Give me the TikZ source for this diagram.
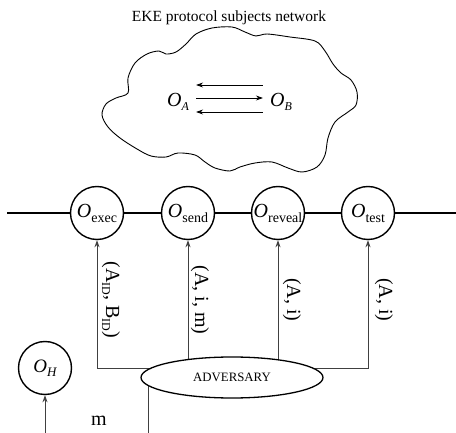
\documentclass[tikz,border=0pt]{standalone}
\usepackage{fontspec}
\setmainfont{Liberation Serif}
\usetikzlibrary{arrows.meta,shapes.geometric,backgrounds}
\newcommand{\Osb}[1]{\textit{O}\raisebox{-5pt}{\fontsize{14}{14}\selectfont #1}}
\newcommand{\Oit}[3]{\textit{O}\raisebox{-4pt}{\fontsize{#2}{#2}\selectfont\itshape #1}}
\newcommand{\idsub}{\raisebox{-4pt}{\fontsize{12}{12}\selectfont ID}}
\begin{document}
\begin{tikzpicture}[x=1pt,y=-1pt,
  oracle/.style={circle,draw,line width=1.4pt,minimum size=53pt,inner sep=0pt,fill=white,font=\fontsize{20}{20}\selectfont},
  conn/.style={draw=black!75,line width=0.9pt},
  arr/.style={-{Stealth[length=7pt,width=5pt]}},
  lbl/.style={rotate=-90,inner sep=0pt,font=\fontsize{20}{20}\selectfont}]
\useasboundingbox (0,0) rectangle (456,433);

\node[font=\fontsize{15.5}{16}\selectfont] (title) at (229,18) {EKE protocol subjects network};

\draw[line width=0.9pt] plot[smooth cycle, tension=0.55] coordinates {
(128,93) (128,78) (135,63) (147,54) (159,51) (166,54) (176,52) (186,44) (196,34) (212,28) (232,27) (245,32) (256,36) (267,34) (290,37) (315,41) (325,51) (333,64) (341,73) (351,80) (357,92) (356,105) (348,112) (335,122) (328,138) (325,155) (317,167) (302,172) (288,168) (272,162) (255,163) (240,167) (230,171) (215,168) (205,162) (195,155) (178,153) (166,157) (151,156) (137,149) (120,138) (108,127) (102,115) (106,104) (116,98)};

\node[inner sep=0pt,font=\fontsize{20}{20}\selectfont] (oa) at (178,102) {\Oit{A}{12}{}};
\node[inner sep=0pt,font=\fontsize{20}{20}\selectfont] (ob) at (281,102) {\Oit{B}{12}{}};
\draw[arr,line width=0.8pt] ([xshift=-7pt,yshift=17pt]ob.west) -- ([xshift=7pt,yshift=17pt]oa.east);
\draw[arr,line width=0.8pt] ([xshift=7pt,yshift=4pt]oa.east) -- ([xshift=-7pt,yshift=4pt]ob.west);
\draw[arr,line width=0.8pt] ([xshift=-7pt,yshift=-10pt]ob.west) -- ([xshift=7pt,yshift=-10pt]oa.east);

\node[oracle] (exec) at (97,213) {\Osb{exec}};
\node[oracle] (send) at (188,213) {\Osb{send}};
\node[oracle] (reveal) at (278,213) {\Osb{reveal}};
\node[oracle] (test) at (368,213) {\Osb{test}};
\coordinate (L) at (7,213);
\coordinate (R) at (456,213);
\draw[line width=1.4pt] (L) -- (exec) -- (send) -- (reveal) -- (test) -- (R);

\node[ellipse,draw,line width=1.3pt,fill=white,minimum width=182pt,minimum height=41pt,inner sep=0pt,font=\fontsize{12.8}{13}\selectfont] (adv) at (232,377.5) {ADVERSARY};

\coordinate (jl) at (97,368);
\coordinate (jr) at (368,368);
\coordinate (bot) at (148,433);
\begin{scope}[on background layer]
\draw[conn,arr] (adv.center |- jl) -- (jl) -- (exec);
\draw[conn,arr] (adv.center -| send) -- (send);
\draw[conn,arr] (adv.center -| reveal) -- (reveal);
\draw[conn,arr] (adv.center |- jr) -- (jr) -- (test);
\draw[conn] (bot |- adv.center) -- (bot);
\end{scope}

\node[lbl] (l1) at (111,300) {(A\idsub, B\idsub)};
\node[lbl] (l2) at (200,300) {(A, i, m)};
\node[lbl] (l3) at (292,300) {(A, i)};
\node[lbl] (l4) at (384,300) {(A, i)};

\node[oracle,font=\fontsize{19}{19}\selectfont] (oh) at (45,368) {\Oit{H}{13}{}};
\coordinate (ohb) at (45,433);
\draw[conn,arr] (ohb) -- (oh);
\node[font=\fontsize{20}{20}\selectfont] (m) at (99,421) {m};
\end{tikzpicture}
\end{document}
